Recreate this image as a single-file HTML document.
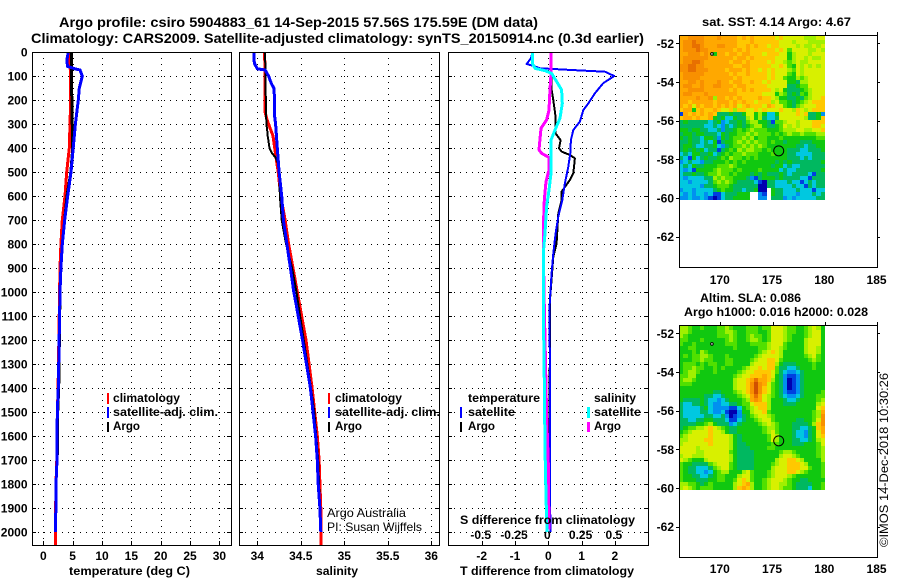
<!DOCTYPE html>
<html lang="en">
<head>
<meta charset="utf-8">
<title>Argo profile chart</title>
<style>
html,body{margin:0;padding:0;background:#fff;}
svg{display:block;}
text{font-family:"Liberation Sans",sans-serif;font-size:12px;font-weight:bold;fill:#000;}
text.light{font-weight:normal;}
</style>
</head>
<body>
<svg id="chart" xmlns="http://www.w3.org/2000/svg" width="900" height="580" viewBox="0 0 900 580">
  <rect x="0" y="0" width="900" height="580" fill="#fff"/>
  <g id="panel-temp"></g>
  <g id="panel-sal"></g>
  <g id="panel-diff"></g>
  <g id="map-sst"></g>
  <g id="map-sla"></g>

  <text x="59" y="27" textLength="479" lengthAdjust="spacingAndGlyphs" style="font-size:14px">Argo profile: csiro 5904883_61 14-Sep-2015 57.56S 175.59E (DM data)</text>
  <text x="31" y="43" textLength="613" lengthAdjust="spacingAndGlyphs" style="font-size:14px">Climatology: CARS2009. Satellite-adjusted climatology: synTS_20150914.nc (0.3d earlier)</text>

  <text x="69" y="575" textLength="121" lengthAdjust="spacingAndGlyphs">temperature (deg C)</text>
  <text x="316" y="575" textLength="42" lengthAdjust="spacingAndGlyphs">salinity</text>
  <text x="460" y="575" textLength="174" lengthAdjust="spacingAndGlyphs">T difference from climatology</text>
  <text x="460" y="524" textLength="175" lengthAdjust="spacingAndGlyphs">S difference from climatology</text>

  <g>
    <rect x="107" y="393" width="2" height="11" fill="#f00"/>
    <rect x="107" y="407" width="2" height="11" fill="#00f"/>
    <rect x="107" y="422" width="2" height="10" fill="#000"/>
    <text x="113" y="402" textLength="67" lengthAdjust="spacingAndGlyphs">climatology</text>
    <text x="113" y="416" textLength="105" lengthAdjust="spacingAndGlyphs">satellite-adj. clim.</text>
    <text x="113" y="430" textLength="27" lengthAdjust="spacingAndGlyphs">Argo</text>
  </g>
  <g>
    <rect x="328" y="393" width="2" height="11" fill="#f00"/>
    <rect x="328" y="407" width="2" height="11" fill="#00f"/>
    <rect x="328" y="422" width="2" height="10" fill="#000"/>
    <text x="335" y="402" textLength="67" lengthAdjust="spacingAndGlyphs">climatology</text>
    <text x="335" y="416" textLength="105" lengthAdjust="spacingAndGlyphs">satellite-adj. clim.</text>
    <text x="335" y="430" textLength="27" lengthAdjust="spacingAndGlyphs">Argo</text>
  </g>
  <g>
    <text x="468" y="402" textLength="72" lengthAdjust="spacingAndGlyphs">temperature</text>
    <rect x="460" y="407" width="2" height="11" fill="#00f"/>
    <text x="468" y="416" textLength="47" lengthAdjust="spacingAndGlyphs">satellite</text>
    <rect x="460" y="422" width="2" height="10" fill="#000"/>
    <text x="468" y="430" textLength="27" lengthAdjust="spacingAndGlyphs">Argo</text>
    <text x="594" y="402" textLength="42" lengthAdjust="spacingAndGlyphs">salinity</text>
    <rect x="587" y="407" width="3" height="11" fill="#0ff"/>
    <text x="594" y="416" textLength="47" lengthAdjust="spacingAndGlyphs">satellite</text>
    <rect x="587" y="422" width="3" height="10" fill="#f0f"/>
    <text x="594" y="430" textLength="27" lengthAdjust="spacingAndGlyphs">Argo</text>
  </g>

  <text class="light" x="327" y="517" textLength="79" lengthAdjust="spacingAndGlyphs">Argo Australia</text>
  <text class="light" x="327" y="531" textLength="95" lengthAdjust="spacingAndGlyphs">PI: Susan Wijffels</text>

  <text x="702" y="26" textLength="149" lengthAdjust="spacingAndGlyphs">sat. SST: 4.14 Argo: 4.67</text>
  <text x="700" y="302" textLength="101" lengthAdjust="spacingAndGlyphs">Altim. SLA: 0.086</text>
  <text x="684" y="316" textLength="184" lengthAdjust="spacingAndGlyphs">Argo h1000: 0.016 h2000: 0.028</text>
  <text class="light" transform="translate(888,547) rotate(-90)" x="0" y="0" textLength="174" lengthAdjust="spacingAndGlyphs">©IMOS 14-Dec-2018 10:30:26</text>
</svg>

<script>
// ---------- tick data ----------
const depthTicks = [0,100,200,300,400,500,600,700,800,900,1000,1100,1200,1300,1400,1500,1600,1700,1800,1900,2000];
const tempTicks = [0,5,10,15,20,25,30];
const salTicks = [34,34.5,35,35.5,36];
const salTickLabels = ["34","34.5","35","35.5","36"];
const tDiffTicks = [-2,-1,0,1,2];
const tDiffLabels = ["-2","-1","0","1","2"];
const sDiffTicks = [-0.5,-0.25,0,0.25,0.5];
const sDiffLabels = ["-0.5","-0.25","0","0.25","0.5"];
const lonTicks = [170,175,180,185];
const latTicks = [-52,-54,-56,-58,-60,-62];

// ---------- temperature profiles ----------
const tempClimDepth = [0,200,400,500,600,700,800,900,1000,1400,1500,1700,1800,2000,2054];
const tempClimValue = [4.55,4.67,4.43,3.98,3.7,3.24,3.0,2.85,2.78,2.52,2.4,2.3,2.16,2.05,2.05];
const tempArgoDepth = [0,200,400,500,600,700,800,900,1000,1400,1500,1680];
const tempArgoValue = [4.77,4.85,5.0,4.7,4.04,3.64,3.24,3.0,2.85,2.62,2.45,2.4];
const tempSatDepth = [0,30,60,70,75,100,150,200,300,400,500,600,700,800,900,1000,1400,1500,1700,1800,2000];
const tempSatValue = [4.26,4.04,4.1,5.4,6.25,6.65,6.13,5.97,5.46,5.1,4.72,4.15,3.64,3.24,3.0,2.85,2.56,2.39,2.33,2.16,2.1];

// ---------- salinity profiles ----------
const salClimDepth = [0,250,280,300,350,400,450,500,600,700,800,900,1000,1060,1200,1400,1500,1600,1700,1800,1900,2054];
const salClimValue = [34.085,34.09,34.11,34.13,34.18,34.2,34.22,34.24,34.27,34.32,34.36,34.41,34.46,34.49,34.56,34.63,34.66,34.69,34.71,34.72,34.73,34.73];
const salArgoDepth = [0,250,300,330,350,400,420,440,460,500,600,700,800,900,1000,1400,1500,1700,2000];
const salArgoValue = [34.09,34.1,34.105,34.115,34.12,34.14,34.165,34.21,34.234,34.25,34.26,34.28,34.33,34.4,34.45,34.617,34.655,34.7,34.73];
const salSatDepth = [0,30,50,70,75,100,130,150,200,270,300,400,500,600,700,800,900,1000,1060,1200,1400,1500,1600,1700,1800,1900,2000];
const salSatValue = [33.96,33.96,33.97,34.0,34.09,34.13,34.16,34.19,34.2,34.2,34.21,34.23,34.25,34.28,34.3,34.34,34.38,34.42,34.45,34.52,34.61,34.64,34.67,34.69,34.7,34.72,34.73];

// ---------- difference profiles ----------
const dTSatDepth = [3,26,50,58,68,78,82,100,130,172,214,242,290,325,367,422,478,547,617,686,756,839,922,1006,1061,1500,2000];
const dTSatValue = [-0.48,-0.52,-0.65,-0.45,-0.25,1.1,1.7,1.98,1.65,1.4,1.2,1.05,0.95,0.75,0.68,0.66,0.6,0.5,0.42,0.3,0.22,0.15,0.1,0.06,0.04,0.05,0.06];
const dTArgoDepth = [3,158,200,270,339,367,401,415,429,443,506,533,582,617,672,797,853,1033,1500,1900];
const dTArgoValue = [0.07,0.1,0.15,0.22,0.22,0.37,0.32,0.4,0.65,0.8,0.75,0.65,0.4,0.4,0.3,0.25,0.15,0.05,0.04,0.04];
const dSSatDepth = [3,47,68,78,89,123,158,214,276,325,367,506,575,644,756,839,1061,1370,1650,1850,2000];
const dSSatValue = [-0.12,-0.12,-0.1,-0.025,0.025,0.0625,0.1,0.105,0.0875,0.05,0.02,0.02,0.005,-0.0125,-0.025,-0.0375,-0.0375,-0.03,-0.025,-0.017,-0.01];
const dSArgoDepth = [3,89,186,242,283,318,381,408,422,439,492,540,617,700,825,1061,1507,1715,1990];
const dSArgoValue = [0.02,0.02,0.01,0.005,-0.0125,-0.055,-0.065,-0.07,-0.05,0.005,0.005,-0.0175,-0.03,-0.035,-0.0375,-0.03,-0.0125,0,0.005];

// ---------- map locations ----------
const profileLon = [175.59];
const profileLat = [-57.56];
const islandLon = [169.2];
const islandLat = [-52.55];

// ---------- heat map levels: one character per cell, "-" = no data ----------
const levelColors = {"0":"#0000b0","1":"#0040e0","2":"#0090f0","3":"#00c8e0","4":"#00b860","5":"#10c810","6":"#50e000","7":"#a0f000","8":"#d8f000","9":"#ffc800","a":"#ffa800","b":"#f89000","c":"#e87000","d":"#d05000","e":"#b83000"};
const sstRows = [
"aabbb baaab aaaa9 a9a99 99989 88888 77788",
"abbcb baaaa aaaa9 99a99 99998 88788 87777",
"abbcc baaab baaa9 9a9a9 98998 88878 77878",
"abbbc bbaaa aaa9a 9a999 99989 86888 87787",
"aabbb aba5a a9aa9 aa999 89998 85788 87888",
"abbbb bbaaa aaa9a a9a99 99988 85788 78778",
"abbcc baaaa aa9aa 9a999 98988 76787 78888",
"bbccb baaaa aaa99 aa999 99889 86587 87878",
"bbccb bbaaa a9aaa 9a998 98988 87687 88888",
"abbbb baaaa aa9a9 9a999 98988 86587 88888",
"abbbb aaaaa aaa9a 99999 98988 65576 78888",
"aabba baaab aa9aa 99a99 89888 85547 78888",
"abbaa baabb aaa9a a9999 98888 84456 68888",
"aabbb baaaa aa9a9 a9a99 99878 54445 67888",
"abbaa abaaa aaaa9 99999 88857 64546 57888",
"aaaab aab7a a9a9a 9999a 99875 54454 67889",
"aa9aa aaa9a aa9a9 a9989 99786 65456 78999",
"a9a8a 9aa9a 9a9a8 9a999 8a988 65467 88899",
"9aa59 a99a9 88979 98898 98889 88798 78999",
"1a9a9 a9a94 44544 58857 53358 88898 94452",
"9aa9a 99a54 53354 47857 43348 88888 74459",
"45444 44345 23445 46775 54166 78878 88999",
"44444 43343 24345 45677 54456 87878 88998",
"55455 44334 24456 56766 65556 77788 77889",
"45545 54443 54556 67676 66565 67667 66677",
"54544 35542 54566 76756 65556 55555 55566",
"44544 34351 45567 67676 65655 45554 44555",
"45543 34453 24566 76767 65555 55544 34455",
"45454 53441 45657 67766 56555 54443 34445",
"34355 44534 56566 76665 55655 54433 33444",
"43153 45445 65766 56565 55555 54443 43444",
"23433 24455 56565 65555 55545 45444 44445",
"34354 45556 66765 55555 55455 34334 44444",
"32315 55567 66656 55556 55553 43344 44445",
"34454 45667 66565 55454 54445 43444 43144",
"32333 34476 76655 54214 55545 44443 31444",
"33233 33467 67654 44431 04433 34331 34344",
"33333 24456 66544 44440 04433 33433 14344",
"23323 33345 65544 34450 0-544 33343 33133",
"32323 32311 34445 55--2 1-544 33323 33434",
"22322 32101 34455 55--2 2-444 23233 33344"
];
const slaRows = [
"77655 65556 67655 56665 66888 76655 67875",
"77655 55556 67765 56665 56888 76655 67885",
"76555 55556 66765 56766 56888 76555 67885",
"66555 65555 56765 56776 56888 76555 78885",
"65565 55555 56665 55666 67888 65555 78885",
"55665 55555 55565 55556 67887 65555 78875",
"55565 76555 55555 55556 78987 55555 78875",
"56566 77655 56555 55567 88887 55555 67865",
"55566 76655 56655 55678 89986 55555 56765",
"56665 65665 56655 55788 89975 44455 55655",
"56676 65565 65555 67889 89964 43345 55655",
"56776 55565 55556 78899 99864 32234 55555",
"66775 55555 55567 88999 a9854 21124 55555",
"67765 55555 55578 89aca a9754 20124 55555",
"66655 55555 55578 89bdb a8654 20124 55555",
"55555 55555 55578 89bdb 98654 20124 55555",
"55555 55544 55567 89bdb 98654 21124 55556",
"55555 54433 45556 78aca 87654 32234 55566",
"54444 54332 34555 67aba 87555 43345 55567",
"43344 54322 33445 66899 97555 44455 55578",
"43333 45322 22113 56789 97555 55555 55589",
"43333 44322 31002 55788 96555 55555 5567a",
"43333 34433 42012 45678 87655 55555 5567b",
"44334 45544 43113 45567 88655 55544 5568b",
"44445 56754 44234 55556 78765 55444 4579b",
"45667 78987 65445 55555 67765 55443 3459a",
"56788 88988 75445 55555 67865 55433 2458a",
"67888 88988 88754 55555 56875 55433 24589",
"77888 89988 88754 55555 56875 55443 34578",
"78888 88988 88754 45555 55665 55444 55568",
"88887 88888 88754 44555 56655 55555 55567",
"88887 78888 88654 44455 55556 77655 55567",
"78877 78888 88754 44455 55557 88765 55567",
"87655 57888 88754 44455 55578 89987 55557",
"65544 44678 88654 44455 55678 89998 75556",
"65443 33467 88654 44455 55788 89998 86556",
"65443 32356 77555 78655 56788 89987 65556",
"65544 33456 65557 88655 56788 87655 55556",
"65554 44556 65568 98655 67888 76554 45555",
"77665 45655 55578 9a755 67887 76544 44556",
"78765 66655 55579 a9755 67887 66544 43556"
];

// ---------- layout and axis functions ----------
const svgNS = "http://www.w3.org/2000/svg";
const PLOT_TOP = 52, PLOT_BOTTOM = 545;
function yDepth(d){ return 52 + 0.24 * d; }
function xTemp(t){ return 43.3 + 5.87 * t; }
function xSal(s){ return 257.3 + 87 * (s - 34); }
function xDT(v){ return 548.3 + 33.3 * v; }
function xDS(v){ return 548.3 + 133.2 * v; }
function xLon(lon){ return 720.3 + 10.45 * (lon - 170); }
const LAT_Y_SST = 43.3, LAT_Y_SLA = 333.3;
function yLat(lat, origin){ return origin + 19.34 * (-52 - lat); }

function mk(tag, parent, attrs){
  const n = document.createElementNS(svgNS, tag);
  for (const k in attrs) n.setAttribute(k, attrs[k]);
  parent.appendChild(n);
  return n;
}

function drawSeries(parent, xFn, depths, values, color, width, name){
  const pts = depths.map(function(d, i){ return xFn(values[i]).toFixed(1) + "," + yDepth(d).toFixed(1); }).join(" ");
  const line = mk("polyline", parent, {points: pts, fill: "none", stroke: color, "stroke-width": width, "shape-rendering": "crispEdges", "stroke-linejoin": "round"});
  
  
}

function drawPanel(parent, prefix, left, right, xFn, xTicks, xLabels, showDepthLabels){
  xTicks.forEach(function(v, i){
    const x = Math.round(xFn(v)) + 0.5;
    const g = mk("line", parent, {x1: x, x2: x, y1: PLOT_TOP, y2: PLOT_BOTTOM, stroke: "#000", "stroke-width": 1, "stroke-dasharray": "1 5", "shape-rendering": "crispEdges"});
    
    
    const t = mk("line", parent, {x1: x, x2: x, y1: PLOT_BOTTOM, y2: PLOT_BOTTOM - 4, stroke: "#000", "shape-rendering": "crispEdges"});
    
    
    const lab = mk("text", parent, {x: xFn(v), y: 560, "text-anchor": "middle"});
    lab.textContent = xLabels[i];
    
    
  });
  depthTicks.forEach(function(d){
    const y = Math.round(yDepth(d)) + 0.5;
    const g = mk("line", parent, {x1: left, x2: right, y1: y, y2: y, stroke: "#000", "stroke-width": 1, "stroke-dasharray": "1 5", "shape-rendering": "crispEdges"});
    
    
    const t1 = mk("line", parent, {x1: left, x2: left + 4, y1: y, y2: y, stroke: "#000", "shape-rendering": "crispEdges"});
    
    
    const t2 = mk("line", parent, {x1: right - 4, x2: right, y1: y, y2: y, stroke: "#000", "shape-rendering": "crispEdges"});
    
    
    if (showDepthLabels) {
      const lab = mk("text", parent, {x: 27.5, y: yDepth(d) + 4.5, "text-anchor": "end"});
      lab.textContent = String(d);
      
      
    }
  });
}

function drawBox(parent, name, left, top, right, bottom){
  const box = mk("rect", parent, {x: left + 0.5, y: top + 0.5, width: right - left, height: bottom - top, fill: "none", stroke: "#000", "stroke-width": 1, "shape-rendering": "crispEdges"});
  
  
}

function drawMap(parent, prefix, rows, latOrigin, top, bottom, xLabelY){
  const left = 679, right = 877;
  const lonStart = 166.07, lonStep = 0.398;
  const latStart = -51.6, latStep = 0.2073;
  rows.forEach(function(row, r){
    const cells = row.replace(/ /g, "");
    const y0 = Math.round(yLat(latStart - r * latStep, latOrigin));
    const y1 = Math.round(yLat(latStart - (r + 1) * latStep, latOrigin));
    cells.split("").forEach(function(level, c){
      if (!levelColors[level]) return;
      const x0 = Math.round(xLon(lonStart + c * lonStep));
      const x1 = Math.round(xLon(lonStart + (c + 1) * lonStep));
      const cell = mk("rect", parent, {x: x0, y: y0, width: x1 - x0, height: y1 - y0, fill: levelColors[level], "shape-rendering": "crispEdges"});
      
      
    });
  });
  drawBox(parent, prefix + '-frame', left, top, right, bottom);
  lonTicks.forEach(function(lon){
    const x = Math.round(xLon(lon)) + 0.5;
    const t = mk("line", parent, {x1: x, x2: x, y1: top - 3, y2: top, stroke: "#000", "shape-rendering": "crispEdges"});
    
    
    const lab = mk("text", parent, {x: xLon(lon) - 0.5, y: xLabelY, "text-anchor": "middle"});
    lab.textContent = String(lon);
    
    
  });
  latTicks.forEach(function(lat){
    const y = Math.round(yLat(lat, latOrigin)) + 0.5;
    const tl = mk("line", parent, {x1: left - 3, x2: left, y1: y, y2: y, stroke: "#000", "shape-rendering": "crispEdges"});
    
    
    const tr = mk("line", parent, {x1: right, x2: right + 3, y1: y, y2: y, stroke: "#000", "shape-rendering": "crispEdges"});
    
    
    const lab = mk("text", parent, {x: 674, y: yLat(lat, latOrigin) + 4.5, "text-anchor": "end"});
    lab.textContent = String(lat);
    
    
  });
  profileLon.forEach(function(lon, i){
    const circle = mk("circle", parent, {cx: xLon(lon), cy: yLat(profileLat[i], latOrigin), r: 5, fill: "none", stroke: "#000", "stroke-width": 1});
    
    
  });
  islandLon.forEach(function(lon, i){
    const isle = mk("circle", parent, {cx: xLon(lon), cy: yLat(islandLat[i], latOrigin), r: 1.3, fill: "#fff", stroke: "#000", "stroke-width": 1});
    
    
  });
}

// ---------- temperature panel ----------
const pTemp = document.getElementById("panel-temp");
drawPanel(pTemp, "temperature", 32, 231, xTemp, tempTicks, tempTicks.map(String), true);
drawSeries(pTemp, xTemp, tempClimDepth, tempClimValue, "#f00", 3, "temperature-climatology-line");
drawSeries(pTemp, xTemp, tempArgoDepth, tempArgoValue, "#000", 3, "temperature-argo-line");
drawSeries(pTemp, xTemp, tempSatDepth, tempSatValue, "#00f", 3, "temperature-satellite-line");
drawBox(pTemp, "temperature-plot-frame", 32, PLOT_TOP, 231, PLOT_BOTTOM);

// ---------- salinity panel ----------
const pSal = document.getElementById("panel-sal");
drawPanel(pSal, "salinity", 239, 439, xSal, salTicks, salTickLabels, false);
drawSeries(pSal, xSal, salClimDepth, salClimValue, "#f00", 3, "salinity-climatology-line");
drawSeries(pSal, xSal, salArgoDepth, salArgoValue, "#000", 2, "salinity-argo-line");
drawSeries(pSal, xSal, salSatDepth, salSatValue, "#00f", 3, "salinity-satellite-line");
drawBox(pSal, "salinity-plot-frame", 239, PLOT_TOP, 439, PLOT_BOTTOM);

// ---------- difference panel ----------
const pDiff = document.getElementById("panel-diff");
drawPanel(pDiff, "difference", 448, 648, xDT, tDiffTicks, tDiffLabels, false);
sDiffTicks.forEach(function(v, i){
  const lab = mk("text", pDiff, {x: xDS(v) - 1, y: 539, "text-anchor": "middle"});
  lab.textContent = sDiffLabels[i];
  
  
});
drawSeries(pDiff, xDT, dTArgoDepth, dTArgoValue, "#000", 2, "t-difference-argo-line");
drawSeries(pDiff, xDT, dTSatDepth, dTSatValue, "#00f", 2, "t-difference-satellite-line");
drawSeries(pDiff, xDS, dSArgoDepth, dSArgoValue, "#f0f", 3, "s-difference-argo-line");
drawSeries(pDiff, xDS, dSSatDepth, dSSatValue, "#0ff", 3, "s-difference-satellite-line");
drawBox(pDiff, "difference-plot-frame", 448, PLOT_TOP, 648, PLOT_BOTTOM);

// ---------- maps ----------
drawMap(document.getElementById("map-sst"), "sst-map", sstRows, LAT_Y_SST, 35, 267, 284);
drawMap(document.getElementById("map-sla"), "sla-map", slaRows, LAT_Y_SLA, 325, 557, 573);
</script>
</body>
</html>
